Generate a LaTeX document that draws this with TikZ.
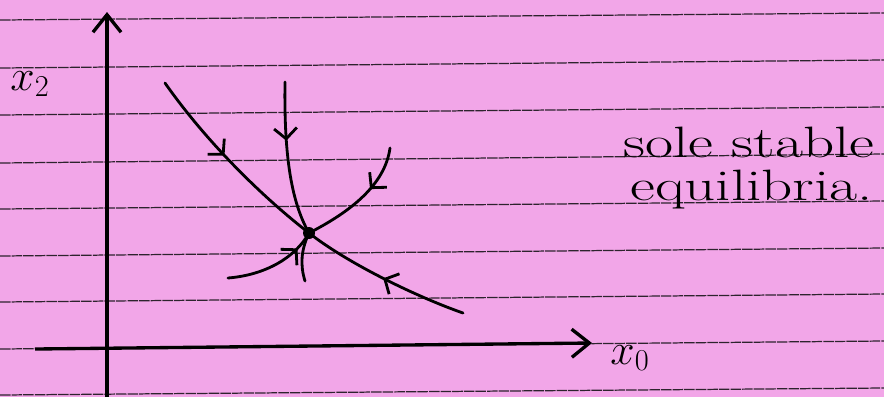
\documentclass[tikz,border=0pt]{standalone}
\usepackage{tikz}
\usetikzlibrary{arrows.meta, decorations.markings}
\definecolor{paperpink}{RGB}{242,166,232}
\definecolor{ruling}{RGB}{45,35,45}

\tikzset{
  traj/.style={line width=1.6pt, line cap=round},
  axisline/.style={line width=1.9pt, -{Straight Barb[length=10pt,width=16pt,line width=1.9pt]}},
  flowarrow/.style={postaction={decorate}, decoration={markings,
    mark=at position #1 with {\arrow{Straight Barb[length=6pt,width=13pt,line width=1.6pt]}}}},
  handtext/.style={font=\fontsize{25}{24.4}\selectfont, align=left, anchor=north west, inner sep=0pt},
}

\begin{document}
\begin{tikzpicture}[x=0.02cm, y=-0.02cm]
  % paper and rulings
  \fill[paperpink] (0,0) rectangle (884,397);
  \useasboundingbox (0,0) rectangle (884,397);
  \foreach \yl/\yr in {20/13, 68/60, 115/107, 163/154, 209/201, 256/248, 302/294, 349/341, 395/388}
    \draw[ruling, line width=0.7pt, dash pattern=on 6pt off 0.6pt] (0,\yl) -- (884,\yr);
  % axes
  \coordinate (orig) at (107,349);
  \coordinate (ybot) at (107,397);
  \coordinate (ytop) at (107,12);
  \coordinate (xleft) at (35,349);
  \coordinate (xright) at (592,343);
  \draw[axisline] (ybot) -- (ytop);
  \draw[axisline] (xleft) -- (xright);
  \node[font=\fontsize{26}{30}\selectfont] (xtwo) at (30,84) {$x_2$};
  \node[font=\fontsize{24}{28}\selectfont] (xzero) at (630,358) {$x_0$};
  % equilibrium and trajectories
  \node[circle, fill=black, inner sep=0pt, minimum size=0.24cm] (eq) at (309,233) {};
  \coordinate (nw) at (165,83);
  \coordinate (se) at (463,313);
  \coordinate (n) at (285,82);
  \coordinate (s) at (305,281);
  \coordinate (ne) at (390,148);
  \coordinate (sw) at (228,278);
  \draw[traj, flowarrow=0.45] (nw) .. controls (205,140) and (260,195) .. (eq.center);
  \draw[traj, flowarrow=0.5] (se) .. controls (420,298) and (350,265) .. (eq.center);
  \draw[traj, flowarrow=0.38] (n) .. controls (284,150) and (290,200) .. (eq.center);
  \draw[traj] (s) .. controls (300,265) and (301,250) .. (eq.center);
  \draw[traj, flowarrow=0.38] (ne) .. controls (385,185) and (350,212) .. (eq.center);
  \draw[traj, flowarrow=0.8] (sw) .. controls (265,275) and (295,258) .. (eq.center);
  % note
  \node[handtext] (note) at (623,127)
    {\scalebox{1.39}[1]{sole stable}\\ \hspace{4pt}\scalebox{1.39}[1]{equilibria.}};
\end{tikzpicture}
\end{document}
